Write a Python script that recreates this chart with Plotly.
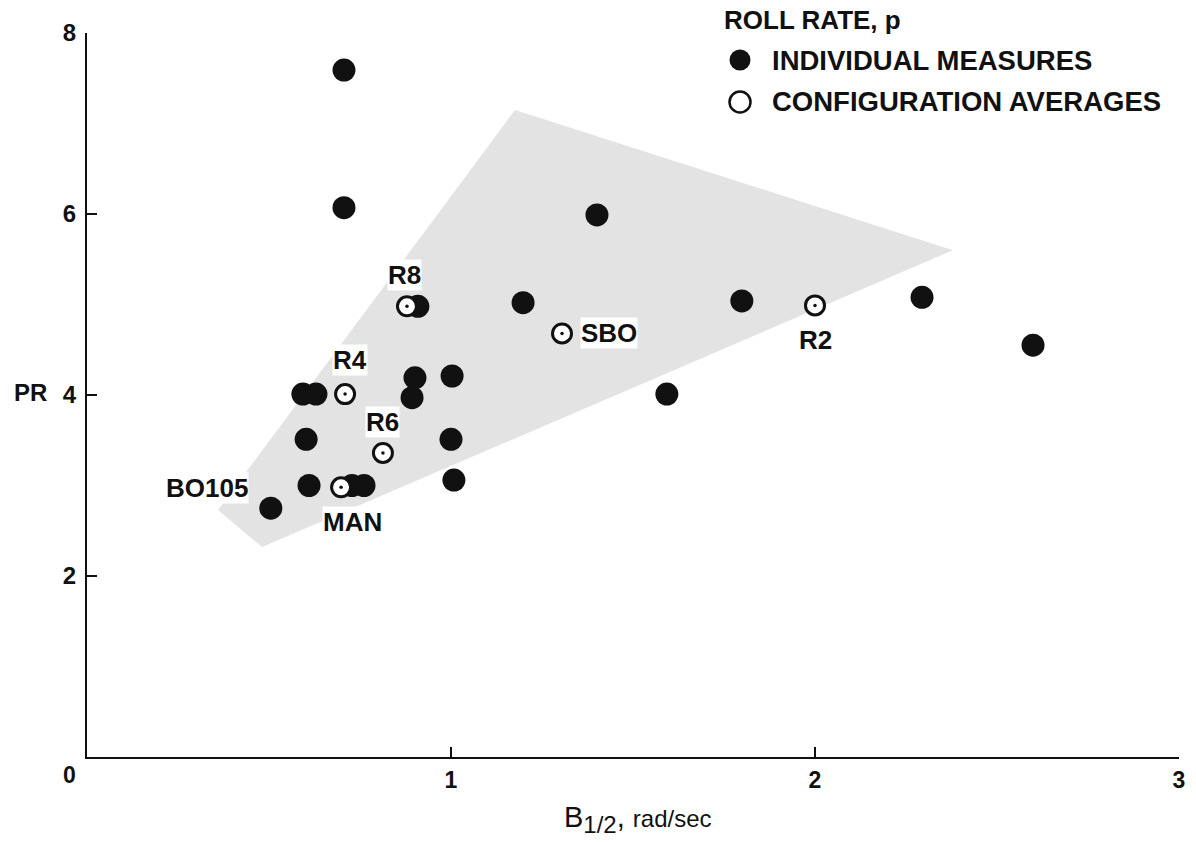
import plotly.graph_objects as go

# Individual measures (filled)
ind_x = [0.706, 0.706, 1.401, 0.909, 1.198, 1.799, 2.294, 2.599, 1.593,
         0.593, 0.629, 0.893, 0.901, 1.003, 1.000, 0.602, 1.008, 0.610,
         0.505, 0.728, 0.761]
ind_y = [7.59, 6.07, 5.99, 4.98, 5.02, 5.04, 5.08, 4.55, 4.01,
         4.01, 4.01, 3.97, 4.19, 4.21, 3.51, 3.51, 3.06, 3.00,
         2.75, 3.00, 3.00]

# Configuration averages (open)
avg_x = [0.879, 0.709, 0.813, 0.698, 1.305, 2.000]
avg_y = [4.98, 4.01, 3.36, 2.98, 4.68, 4.99]
avg_labels = ["R8", "R4", "R6", "MAN", "SBO", "R2"]

# BO105 label belongs to the individual point at (0.505, 2.75)
bo_x, bo_y = 0.505, 2.75

# Shaded region
region_x = [0.360, 0.481, 2.379, 1.176, 0.360]
region_y = [2.73, 2.32, 5.60, 7.15, 2.73]

x_ticks = [1, 2, 3]
y_ticks = [2, 4, 6, 8]
origin_label = "0"

legend_title = "ROLL RATE, p"
legend_items = ["INDIVIDUAL MEASURES", "CONFIGURATION AVERAGES"]

FONT = "Liberation Sans"
INK = "#111111"
LBL = dict(family=FONT, size=26, color=INK, weight="bold")
LEG = dict(family=FONT, size=27.5, color=INK, weight="bold")

fig = go.Figure()
fig.add_trace(go.Scatter(x=region_x, y=region_y, mode="lines", fill="toself",
                         fillcolor="#e3e3e3", line=dict(width=0),
                         showlegend=False, hoverinfo="skip"))
fig.add_trace(go.Scatter(x=ind_x, y=ind_y, mode="markers", name=legend_items[0],
                         marker=dict(size=23, color=INK, line=dict(width=0)),
                         showlegend=False))
fig.add_trace(go.Scatter(x=avg_x, y=avg_y, mode="markers", name=legend_items[1],
                         marker=dict(size=19, color="white", line=dict(width=3, color=INK)),
                         showlegend=False))
fig.add_trace(go.Scatter(x=avg_x, y=avg_y, mode="markers", showlegend=False,
                         marker=dict(size=3.5, color=INK), hoverinfo="skip"))

label_pos = {
    "R8": (-2, -31), "R4": (5, -34), "R6": (0, -31), "MAN": (11, 35),
    "SBO": (47, 0), "R2": (0, 35),
}
for lx, ly, lt in zip(avg_x, avg_y, avg_labels):
    dx, dy = label_pos[lt]
    fig.add_annotation(x=lx, y=ly, text=lt, showarrow=False, xshift=dx, yshift=-dy,
                       font=LBL, bgcolor="white", borderpad=0)
fig.add_annotation(x=bo_x, y=bo_y, text="BO105", showarrow=False, xshift=-64, yshift=20,
                   font=LBL, bgcolor="white", borderpad=0)

# shared origin tick label
fig.add_annotation(xref="paper", yref="paper", x=-0.0156, y=-0.0249, text=origin_label,
                   showarrow=False, xanchor="center", yanchor="middle",
                   font=dict(family=FONT, size=23, color=INK, weight="bold"))

# axis titles
fig.add_annotation(xref="paper", yref="paper", x=-0.0513, y=0.503, text="PR",
                   showarrow=False, xanchor="center",
                   font=dict(family=FONT, size=24, color=INK, weight="bold"))
fig.add_annotation(xref="paper", yref="paper", x=0.5046, y=-0.087, yanchor="middle",
                   text="B<sub><span style='font-size:24px'>1/2</span></sub>, "
                        "<span style='font-size:24px'>rad/sec</span>",
                   showarrow=False,
                   font=dict(family=FONT, size=29, color=INK))

# legend (drawn manually to match the original layout)
fig.add_annotation(xref="paper", yref="paper", x=0.5815, y=1.018, xanchor="left",
                   yanchor="middle", text=legend_title, showarrow=False, font=LBL)
for i, (txt, yy) in enumerate(zip(legend_items, [0.9627, 0.9047])):
    fig.add_annotation(xref="paper", yref="paper", x=0.6255, y=yy, xanchor="left",
                       yanchor="middle", text=txt, showarrow=False, font=LEG)
    fig.add_shape(type="circle", xref="paper", yref="paper", xsizemode="pixel",
                  ysizemode="pixel", xanchor=0.598, yanchor=yy,
                  x0=-10.5, x1=10.5, y0=-10.5, y1=10.5,
                  fillcolor=INK if i == 0 else "white",
                  line=dict(color=INK, width=0 if i == 0 else 2.5))

fig.update_layout(
    width=1196, height=842,
    margin=dict(l=87, r=17, t=33, b=85, autoexpand=False),
    paper_bgcolor="white", plot_bgcolor="white",
    font=dict(family=FONT, color=INK),
    showlegend=False,
    xaxis=dict(range=[0, 3], tickvals=x_ticks,
               showgrid=False, zeroline=False, showline=True, linecolor=INK, linewidth=2,
               ticks="inside", ticklen=10, tickwidth=2, tickcolor=INK,
               tickfont=dict(family=FONT, size=23, color=INK, weight="bold"),
               ticklabelstandoff=1),
    yaxis=dict(range=[0, 8], tickvals=y_ticks,
               showgrid=False, zeroline=False, showline=True, linecolor=INK, linewidth=2,
               ticks="inside", ticklen=10, tickwidth=2, tickcolor=INK,
               tickfont=dict(family=FONT, size=24, color=INK, weight="bold"),
               ticklabelstandoff=4),
)

fig.write_html("out.html")
